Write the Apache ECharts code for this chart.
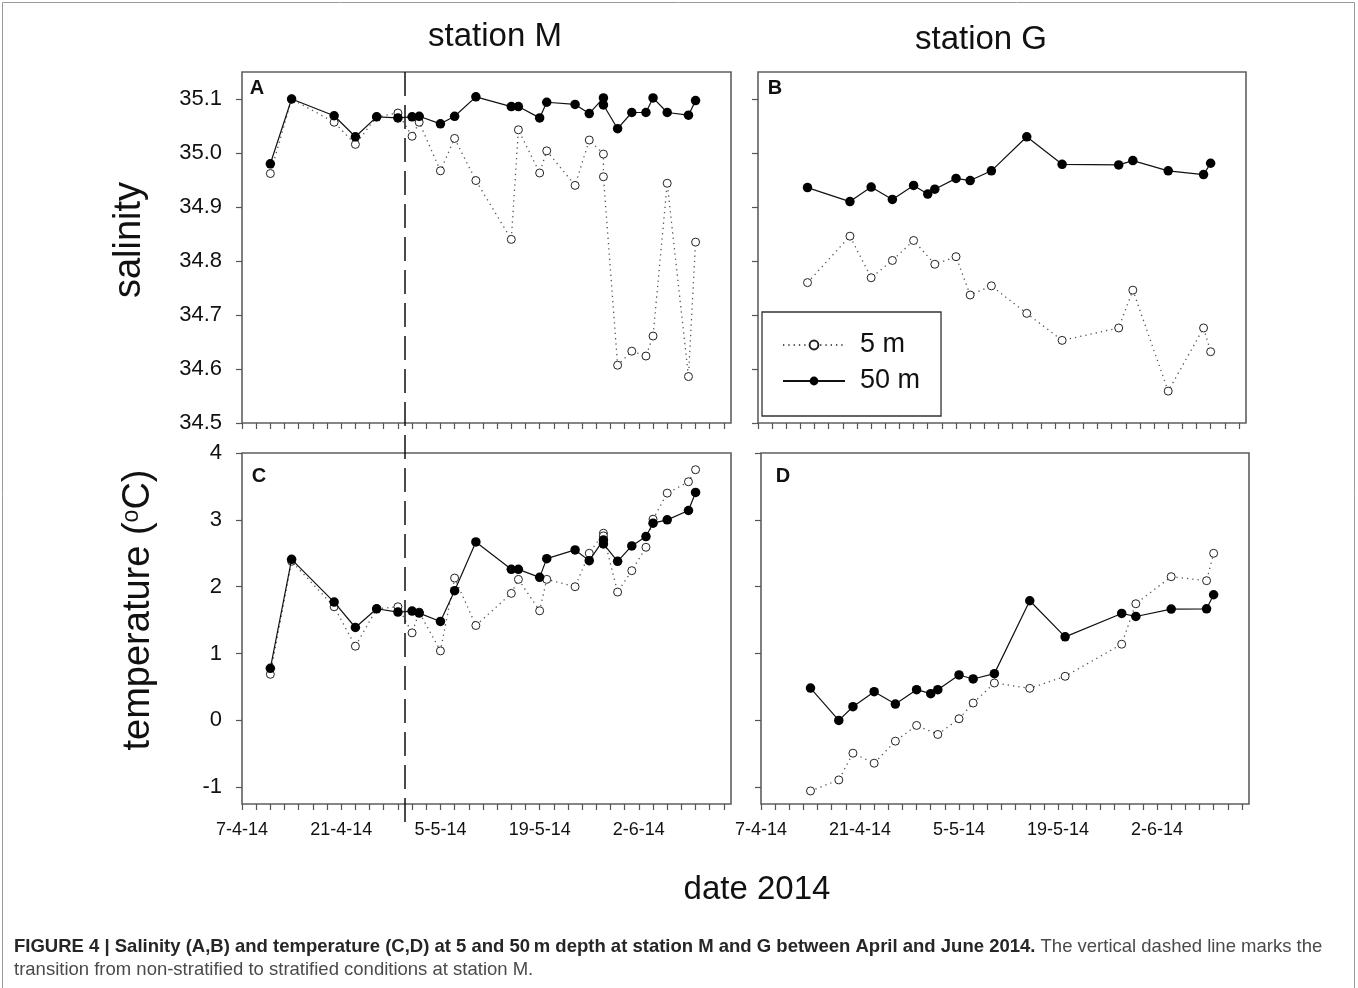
<!DOCTYPE html>
<html><head><meta charset="utf-8">
<script src="https://cdn.jsdelivr.net/npm/echarts@6/dist/echarts.min.js"></script>
<style>html,body{margin:0;padding:0;background:#fff}#c{width:1358px;height:988px}</style>
</head><body><div id="c"></div>
<script>
// ---------- data ----------
const datesM = ['2014-04-11','2014-04-14','2014-04-20','2014-04-23','2014-04-26','2014-04-29','2014-05-01','2014-05-02','2014-05-05','2014-05-07','2014-05-10','2014-05-15','2014-05-16','2014-05-19','2014-05-20','2014-05-24','2014-05-26','2014-05-28','2014-05-28','2014-05-30','2014-06-01','2014-06-03','2014-06-04','2014-06-06','2014-06-09','2014-06-10'];
const salM5  = [34.962,35.100,35.057,35.016,35.067,35.074,35.031,35.057,34.967,35.027,34.949,34.840,35.043,34.963,35.004,34.940,35.024,34.998,34.956,34.607,34.633,34.624,34.661,34.944,34.586,34.835];
const salM50 = [34.980,35.100,35.069,35.030,35.067,35.065,35.067,35.068,35.054,35.068,35.104,35.086,35.086,35.065,35.094,35.090,35.073,35.102,35.089,35.045,35.075,35.075,35.102,35.075,35.070,35.097];
const tempM5  = [0.69,2.38,1.70,1.11,1.67,1.70,1.31,1.62,1.04,2.13,1.42,1.90,2.11,1.64,2.11,2.00,2.50,2.80,2.76,1.92,2.24,2.59,3.01,3.40,3.57,3.75];
const tempM50 = [0.78,2.41,1.77,1.39,1.67,1.62,1.635,1.605,1.48,1.94,2.67,2.26,2.26,2.14,2.42,2.55,2.39,2.70,2.64,2.38,2.61,2.75,2.95,3.00,3.14,3.41];

const datesG = ['2014-04-14','2014-04-18','2014-04-20','2014-04-23','2014-04-26','2014-04-29','2014-05-01','2014-05-02','2014-05-05','2014-05-07','2014-05-10','2014-05-15','2014-05-20','2014-05-28','2014-05-30','2014-06-04','2014-06-09','2014-06-10'];
const salG5  = [34.760,null,34.846,34.769,34.801,34.838,null,34.794,34.808,34.737,34.754,34.703,34.653,34.676,34.746,34.559,34.676,34.632];
const salG50 = [34.936,null,34.910,34.937,34.914,34.940,34.924,34.933,34.953,34.949,34.967,35.030,34.979,34.978,34.986,34.967,34.960,34.981];
const tempG5  = [-1.055,-0.89,-0.49,-0.64,-0.31,-0.075,null,-0.21,0.025,0.26,0.56,0.48,0.66,1.14,1.745,2.15,2.09,2.50];
const tempG50 = [0.484,0.00,0.205,0.43,0.245,0.46,0.40,0.46,0.68,0.62,0.70,1.79,1.25,1.60,1.555,1.665,1.67,1.88];

const xStartDate = '2014-04-07';
const xEndDate = '2014-06-15';
const xTickLabels = ['7-4-14','21-4-14','5-5-14','19-5-14','2-6-14'];
const salTicks = [34.5,34.6,34.7,34.8,34.9,35.0,35.1];
const salTickLabels = ['34.5','34.6','34.7','34.8','34.9','35.0','35.1'];
const tempTicks = [-1,0,1,2,3,4];
const tempTickLabels = ['-1','0','1','2','3','4'];
const transitionDate = '2014-04-30';

// ---------- helpers ----------
const FONT = 'Liberation Sans, Arial, Helvetica, sans-serif';
const DAY = 86400000;
function dayOf(s){ const p = s.split('-').map(Number); const q = xStartDate.split('-').map(Number);
  return (Date.UTC(p[0],p[1]-1,p[2]) - Date.UTC(q[0],q[1]-1,q[2]))/DAY; }
function pts(dates, vals){ return dates.map((d,i)=>[dayOf(d), vals[i]]).filter(p=>p[1]!==null); }
const XMAX = dayOf(xEndDate);
const majorX = xTickLabels.map((_,k)=>k*14);
const minorX = []; for(let v=0; v<=XMAX; v+=2) minorX.push(v);

const grids = [
  {left:242, top:72, width:489, height:351},
  {left:758, top:72, width:488, height:351},
  {left:242, top:453, width:489, height:351},
  {left:761, top:453, width:488, height:351}
];
const AX = '#555';
const xAxes = grids.map((g,i)=>({
  gridIndex:i, type:'value', min:0, max:XMAX, position:'bottom',
  axisLine:{show:false, onZero:false}, splitLine:{show:false},
  axisTick:{show:true, length:6, customValues:minorX, lineStyle:{color:AX, width:1.2}},
  axisLabel:{show:i>=2, customValues:majorX, margin:17, fontSize:18, color:'#111', fontFamily:FONT,
    formatter:v=>xTickLabels[Math.round(v/14)]}
}));
const yAxes = grids.map((g,i)=>{
  const sal = i<2;
  const ticks = sal ? salTicks : tempTicks;
  const labs = sal ? salTickLabels : tempTickLabels;
  return {gridIndex:i, type:'value', min: sal?34.5:-1.25, max: sal?35.15:4, position:'left',
    axisLine:{show:false, onZero:false}, splitLine:{show:false},
    axisTick:{show:true, length:6, customValues:ticks, lineStyle:{color:AX, width:1.2}},
    axisLabel:{show:i%2===0, customValues:ticks, margin:20, fontSize:22, color:'#111', fontFamily:FONT,
      formatter:v=>{ const k = ticks.findIndex(t=>Math.abs(t-v)<1e-6); return k>=0?labs[k]:''; }}
  };
});

function s5(i, data){ return {name:'5 m', type:'line', xAxisIndex:i, yAxisIndex:i, data,
  symbol:'circle', symbolSize:8, z:2,
  itemStyle:{color:'#fff', borderColor:'#222', borderWidth:1},
  lineStyle:{color:'#555', width:1.3, type:[1.3,4]}, animation:false}; }
function s50(i, data){ return {name:'50 m', type:'line', xAxisIndex:i, yAxisIndex:i, data,
  symbol:'circle', symbolSize:9.5, z:3,
  itemStyle:{color:'#000', borderColor:'#000', borderWidth:0},
  lineStyle:{color:'#111', width:1.2}, animation:false}; }

const series = [
  s5(0, pts(datesM, salM5)), s50(0, pts(datesM, salM50)),
  s5(1, pts(datesG, salG5)), s50(1, pts(datesG, salG50)),
  s5(2, pts(datesM, tempM5)), s50(2, pts(datesM, tempM50)),
  s5(3, pts(datesG, tempG5)), s50(3, pts(datesG, tempG50))
];

const chart = echarts.init(document.getElementById('c'), null, {renderer:'canvas'});
chart.setOption({
  animation:false,
  backgroundColor:'#fff',
  grid: grids.map(g=>Object.assign({show:true, borderColor:'#5f5f5f', borderWidth:1.6, backgroundColor:'transparent', containLabel:false}, g)),
  xAxis: xAxes, yAxis: yAxes, series,
  legend:{data:['5 m','50 m'], orient:'vertical', left:762, top:312, itemWidth:62, itemHeight:11, itemGap:4,
    padding:[17,21,19,20], borderColor:'#333', borderWidth:1.3, backgroundColor:'#fff',
    textStyle:{fontSize:27, color:'#111', fontFamily:FONT, lineHeight:32, padding:[0,0,0,10]}, selectedMode:false}
});

// transition line located through the axes' scales
const tx = chart.convertToPixel({xAxisIndex:0}, dayOf(transitionDate));
const ty0 = chart.convertToPixel({yAxisIndex:0}, 35.15);
const ty1 = chart.convertToPixel({yAxisIndex:2}, -1.25) + 18;

function txt(id, x, y, text, size, extra){ return Object.assign({type:'text', id, x, y, silent:true,
  style:{text, font:`${size}px ${FONT}`, fill:'#111', textAlign:'center', textVerticalAlign:'middle'}}, extra||{}); }
const graphic = [
  {type:'rect', id:'frame', shape:{x:2.5, y:2.5, width:1352, height:1000}, style:{fill:null, stroke:'#9a9a9a', lineWidth:1}, silent:true, z:-1},
  {type:'line', id:'trans', shape:{x1:tx, y1:ty0, x2:tx, y2:ty1}, style:{stroke:'#111', lineWidth:1.5, lineDash:[24,9]}, silent:true, z:5},
  txt('tM', 495, 37, 'station M', 33),
  txt('tG', 981, 40, 'station G', 33),
  txt('ysal', 130, 240, 'salinity', 38, {rotation:Math.PI/2}),
  {type:'text', id:'ytemp', x:139, y:610, rotation:Math.PI/2, silent:true,
    style:{text:'temperature ({sup|o}C)', font:`38px ${FONT}`, fill:'#111', textAlign:'center', textVerticalAlign:'middle',
      rich:{sup:{fontSize:23, fontFamily:FONT, verticalAlign:'top', fill:'#111', lineHeight:38}}}},
  txt('xd', 757, 890, 'date 2014', 33),
  {type:'text', id:'pA', x:257, y:88, silent:true, style:{text:'A', font:`bold 20px ${FONT}`, fill:'#111', textAlign:'center', textVerticalAlign:'middle'}},
  {type:'text', id:'pB', x:775, y:88, silent:true, style:{text:'B', font:`bold 20px ${FONT}`, fill:'#111', textAlign:'center', textVerticalAlign:'middle'}},
  {type:'text', id:'pC', x:259, y:476, silent:true, style:{text:'C', font:`bold 20px ${FONT}`, fill:'#111', textAlign:'center', textVerticalAlign:'middle'}},
  {type:'text', id:'pD', x:783, y:476, silent:true, style:{text:'D', font:`bold 20px ${FONT}`, fill:'#111', textAlign:'center', textVerticalAlign:'middle'}},
  {type:'text', id:'cap', x:14, y:935, silent:true,
    style:{text:'{b|FIGURE 4 | Salinity (A,B) and temperature (C,D) at 5 and 50\u2009m depth at station M and G between April and June 2014.}{n| The vertical dashed line marks the}\n{n|transition from non-stratified to stratified conditions at station M.}',
      font:`18.5px ${FONT}`, fill:'#333', textAlign:'left', textVerticalAlign:'top',
      rich:{b:{fontWeight:'bold', fontSize:18.5, fontFamily:FONT, fill:'#262626', lineHeight:23},
            n:{fontSize:18.5, fontFamily:FONT, fill:'#4a4a4a', lineHeight:23}}}}
];
chart.setOption({graphic});
</script></body></html>
